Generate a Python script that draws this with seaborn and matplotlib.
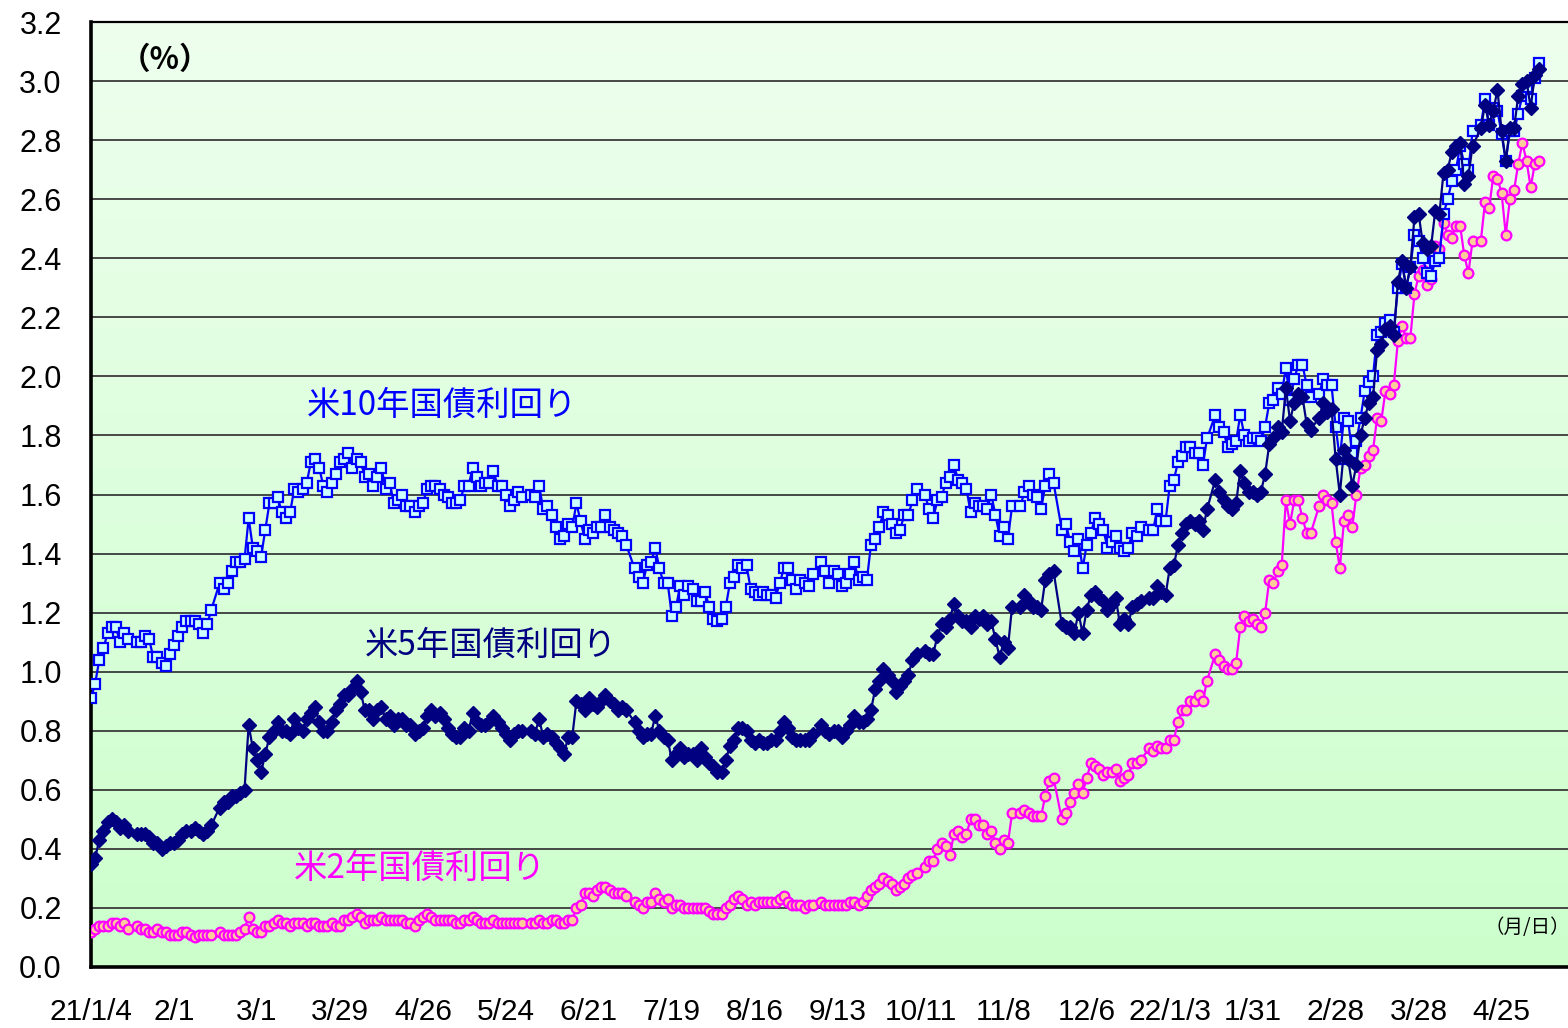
import numpy as np
import pandas as pd
import matplotlib
matplotlib.use("Agg")
import matplotlib.pyplot as plt
import seaborn as sns

nan = np.nan

# weekday dates 2021-01-04 .. 2022-05-06 (one row per week, Mon..Fri; nan = market holiday)
start_date = "2021-01-04"
end_date = "2022-05-06"

tick_labels = ["21/1/4", "2/1", "3/1", "3/29", "4/26", "5/24", "6/21", "7/19", "8/16",
               "9/13", "10/11", "11/8", "12/6", "22/1/3", "1/31", "2/28", "3/28", "4/25"]
y_ticks = [0.0, 0.2, 0.4, 0.6, 0.8, 1.0, 1.2, 1.4, 1.6, 1.8, 2.0, 2.2, 2.4, 2.6, 2.8, 3.0, 3.2]

us10y = [
    0.91, 0.96, 1.04, 1.08, 1.13,  1.15, 1.15, 1.10, 1.13, 1.11,  nan, 1.10, 1.10, 1.12, 1.11,
    1.05, 1.05, 1.03, 1.02, 1.06,  1.09, 1.12, 1.15, 1.17, 1.17,  1.17, 1.16, 1.13, 1.16, 1.21,
    nan, 1.30, 1.28, 1.30, 1.34,  1.37, 1.37, 1.38, 1.52, 1.42,  1.41, 1.39, 1.48, 1.57, 1.57,
    1.59, 1.54, 1.52, 1.54, 1.62,  1.61, 1.62, 1.64, 1.71, 1.72,  1.69, 1.63, 1.61, 1.64, 1.67,
    1.71, 1.72, 1.74, 1.69, 1.72,  1.71, 1.66, 1.67, 1.63, 1.66,  1.69, 1.62, 1.64, 1.57, 1.58,
    1.60, 1.56, 1.56, 1.54, 1.56,  1.57, 1.62, 1.63, 1.63, 1.62,  1.60, 1.59, 1.57, 1.57, 1.58,
    1.63, 1.63, 1.69, 1.66, 1.63,  1.64, 1.64, 1.68, 1.63, 1.63,  1.60, 1.56, 1.58, 1.61, 1.59,
    nan, 1.60, 1.59, 1.63, 1.55,  1.56, 1.53, 1.49, 1.45, 1.46,  1.50, 1.49, 1.57, 1.51, 1.45,
    1.48, 1.47, 1.49, 1.49, 1.53,  1.49, 1.48, 1.47, 1.46, 1.43,  nan, 1.35, 1.32, 1.30, 1.36,
    1.37, 1.42, 1.35, 1.30, 1.30,  1.19, 1.22, 1.29, 1.26, 1.29,  1.28, 1.24, 1.24, 1.27, 1.22,
    1.18, 1.17, 1.18, 1.22, 1.30,  1.32, 1.36, 1.35, 1.36, 1.28,  1.27, 1.26, 1.27, 1.26, 1.26,
    1.25, 1.30, 1.35, 1.35, 1.31,  1.28, 1.31, 1.30, 1.29, 1.33,  nan, 1.37, 1.34, 1.30, 1.34,
    1.33, 1.29, 1.30, 1.33, 1.37,  1.31, 1.32, 1.31, 1.43, 1.45,  1.49, 1.54, 1.53, 1.50, 1.47,
    1.48, 1.53, 1.53, 1.58, 1.62,  nan, 1.60, 1.55, 1.52, 1.58,  1.59, 1.64, 1.66, 1.70, 1.65,
    1.64, 1.62, 1.54, 1.57, 1.56,  1.56, 1.55, 1.60, 1.53, 1.46,  1.49, 1.45, 1.56, nan, 1.56,
    1.61, 1.63, 1.60, 1.59, 1.55,  1.63, 1.67, 1.64, nan, 1.48,  1.50, 1.44, 1.41, 1.45, 1.35,
    1.43, 1.47, 1.52, 1.50, 1.48,  1.42, 1.44, 1.46, 1.42, 1.41,  1.42, 1.47, 1.46, 1.49, nan,
    1.48, 1.48, 1.55, 1.51, 1.51,  1.63, 1.65, 1.71, 1.73, 1.76,  1.76, 1.74, 1.74, 1.70, 1.79,
    nan, 1.87, 1.83, 1.81, 1.76,  1.77, 1.78, 1.87, 1.80, 1.78,  1.79, 1.79, 1.78, 1.83, 1.91,
    1.92, 1.96, 1.94, 2.03, 1.92,  1.99, 2.04, 2.04, 1.97, 1.93,  nan, 1.94, 1.99, 1.97, 1.97,
    1.83, 1.72, 1.86, 1.85, 1.74,  1.78, 1.86, 1.95, 1.98, 2.00,  2.14, 2.15, 2.18, 2.19, 2.15,
    2.30, 2.38, 2.30, 2.37, 2.48,  2.46, 2.40, 2.35, 2.34, 2.39,  2.40, 2.55, 2.60, 2.66, 2.70,
    2.78, 2.72, 2.70, 2.83, nan,  2.85, 2.94, 2.85, 2.91, 2.90,  2.82, 2.73, 2.83, 2.83, 2.89,
    2.95, 2.98, 2.94, 3.01, 3.06,
]

us5y = [
    0.35, 0.37, 0.43, 0.46, 0.49,  0.50, 0.49, 0.47, 0.48, 0.46,  nan, 0.45, 0.45, 0.45, 0.44,
    0.42, 0.42, 0.40, 0.41, 0.42,  0.42, 0.43, 0.45, 0.46, 0.46,  0.47, 0.46, 0.45, 0.46, 0.48,
    nan, 0.54, 0.56, 0.56, 0.58,  0.58, 0.59, 0.60, 0.82, 0.74,  0.70, 0.66, 0.72, 0.78, 0.80,
    0.83, 0.80, 0.80, 0.79, 0.84,  0.81, 0.80, 0.84, 0.86, 0.88,  0.83, 0.80, 0.80, 0.83, 0.87,
    0.89, 0.92, 0.92, 0.94, 0.97,  0.93, 0.87, 0.87, 0.84, 0.87,  0.88, 0.84, 0.85, 0.82, 0.84,
    0.84, 0.82, 0.82, 0.79, 0.80,  0.81, 0.85, 0.87, 0.85, 0.86,  0.84, 0.81, 0.79, 0.78, 0.78,
    0.81, 0.80, 0.86, 0.83, 0.82,  0.82, 0.83, 0.85, 0.83, 0.81,  0.79, 0.77, 0.79, 0.80, 0.80,
    nan, 0.80, 0.79, 0.84, 0.78,  0.79, 0.78, 0.76, 0.74, 0.72,  0.78, 0.78, 0.90, 0.89, 0.87,
    0.91, 0.89, 0.88, 0.90, 0.92,  0.90, 0.89, 0.87, 0.88, 0.87,  nan, 0.83, 0.80, 0.78, 0.79,
    0.79, 0.85, 0.80, 0.78, 0.77,  0.70, 0.72, 0.74, 0.71, 0.72,  0.72, 0.70, 0.74, 0.71, 0.69,
    0.68, 0.66, 0.66, 0.70, 0.75,  0.77, 0.81, 0.81, 0.80, 0.77,  0.76, 0.77, 0.76, 0.76, 0.77,
    0.77, 0.80, 0.83, 0.81, 0.78,  0.77, 0.77, 0.77, 0.77, 0.79,  nan, 0.82, 0.80, 0.79, 0.80,
    0.80, 0.78, 0.80, 0.82, 0.85,  0.83, 0.83, 0.84, 0.87, 0.94,  0.97, 1.01, 0.99, 0.97, 0.93,
    0.95, 0.97, 0.99, 1.04, 1.06,  nan, 1.07, 1.06, 1.06, 1.12,  1.16, 1.15, 1.18, 1.23, 1.19,
    1.17, 1.17, 1.15, 1.19, 1.18,  1.19, 1.16, 1.17, 1.11, 1.05,  1.10, 1.08, 1.22, nan, 1.22,
    1.26, 1.24, 1.22, 1.22, 1.21,  1.31, 1.33, 1.34, nan, 1.16,  1.15, 1.15, 1.13, 1.20, 1.13,
    1.21, 1.26, 1.27, 1.25, 1.24,  1.21, 1.23, 1.25, 1.16, 1.18,  1.16, 1.22, 1.23, 1.24, nan,
    1.25, 1.25, 1.29, 1.27, 1.26,  1.35, 1.36, 1.43, 1.47, 1.50,  1.51, 1.50, 1.51, 1.48, 1.55,
    nan, 1.65, 1.61, 1.58, 1.56,  1.55, 1.57, 1.68, 1.64, 1.61,  1.61, 1.60, 1.61, 1.67, 1.77,
    1.79, 1.83, 1.81, 1.96, 1.85,  1.91, 1.94, 1.93, 1.84, 1.82,  nan, 1.86, 1.91, 1.88, 1.89,
    1.72, 1.60, 1.75, 1.72, 1.63,  1.70, 1.80, 1.86, 1.91, 1.93,  2.09, 2.11, 2.16, 2.17, 2.14,
    2.32, 2.39, 2.30, 2.37, 2.54,  2.55, 2.45, 2.43, 2.44, 2.56,  2.55, 2.69, 2.70, 2.76, 2.78,
    2.79, 2.65, 2.68, 2.78, nan,  2.84, 2.92, 2.85, 2.90, 2.97,  2.83, 2.73, 2.84, 2.84, 2.95,
    2.99, 3.00, 2.91, 3.02, 3.04,
]

us2y = [
    0.12, 0.13, 0.14, 0.14, 0.14,  0.15, 0.15, 0.14, 0.15, 0.13,  nan, 0.14, 0.13, 0.13, 0.12,
    0.12, 0.13, 0.12, 0.12, 0.11,  0.11, 0.11, 0.12, 0.12, 0.11,  0.10, 0.11, 0.11, 0.11, 0.11,
    nan, 0.12, 0.11, 0.11, 0.11,  0.11, 0.12, 0.13, 0.17, 0.13,  0.12, 0.12, 0.14, 0.14, 0.15,
    0.16, 0.15, 0.15, 0.14, 0.15,  0.15, 0.15, 0.14, 0.15, 0.15,  0.14, 0.14, 0.14, 0.15, 0.14,
    0.14, 0.16, 0.16, 0.17, 0.18,  0.17, 0.15, 0.16, 0.16, 0.16,  0.17, 0.16, 0.16, 0.16, 0.16,
    0.16, 0.15, 0.15, 0.14, 0.16,  0.17, 0.18, 0.17, 0.16, 0.16,  0.16, 0.16, 0.16, 0.15, 0.15,
    0.16, 0.16, 0.17, 0.16, 0.15,  0.15, 0.15, 0.16, 0.15, 0.15,  0.15, 0.15, 0.15, 0.15, 0.15,
    nan, 0.15, 0.15, 0.16, 0.15,  0.15, 0.16, 0.16, 0.15, 0.15,  0.16, 0.16, 0.20, 0.21, 0.25,
    0.25, 0.24, 0.26, 0.27, 0.27,  0.26, 0.25, 0.25, 0.25, 0.24,  nan, 0.22, 0.21, 0.20, 0.22,
    0.22, 0.25, 0.23, 0.22, 0.23,  0.20, 0.21, 0.21, 0.20, 0.20,  0.20, 0.20, 0.20, 0.20, 0.19,
    0.18, 0.18, 0.18, 0.20, 0.21,  0.23, 0.24, 0.23, 0.21, 0.22,  0.21, 0.22, 0.22, 0.22, 0.22,
    0.22, 0.23, 0.24, 0.22, 0.21,  0.21, 0.21, 0.20, 0.21, 0.21,  nan, 0.22, 0.21, 0.21, 0.21,
    0.21, 0.21, 0.21, 0.22, 0.22,  0.21, 0.22, 0.24, 0.26, 0.27,  0.28, 0.30, 0.29, 0.28, 0.26,
    0.27, 0.28, 0.30, 0.31, 0.32,  nan, 0.34, 0.36, 0.36, 0.40,  0.42, 0.41, 0.38, 0.45, 0.46,
    0.44, 0.45, 0.50, 0.50, 0.48,  0.48, 0.45, 0.46, 0.42, 0.40,  0.43, 0.42, 0.52, nan, 0.52,
    0.53, 0.52, 0.51, 0.51, 0.51,  0.58, 0.63, 0.64, nan, 0.50,  0.52, 0.56, 0.59, 0.62, 0.59,
    0.64, 0.69, 0.68, 0.67, 0.65,  0.66, 0.66, 0.67, 0.63, 0.64,  0.65, 0.69, 0.69, 0.70, nan,
    0.74, 0.73, 0.75, 0.74, 0.74,  0.77, 0.77, 0.83, 0.87, 0.87,  0.90, 0.90, 0.92, 0.90, 0.97,
    nan, 1.06, 1.04, 1.02, 1.01,  1.01, 1.03, 1.15, 1.19, 1.17,  1.18, 1.16, 1.15, 1.20, 1.31,
    1.30, 1.34, 1.36, 1.58, 1.50,  1.58, 1.58, 1.52, 1.47, 1.47,  nan, 1.56, 1.60, 1.58, 1.57,
    1.44, 1.35, 1.51, 1.53, 1.49,  1.60, 1.69, 1.70, 1.73, 1.75,  1.86, 1.85, 1.95, 1.94, 1.97,
    2.12, 2.17, 2.13, 2.13, 2.28,  2.34, 2.36, 2.31, 2.33, 2.44,  2.43, 2.52, 2.48, 2.47, 2.51,
    2.51, 2.41, 2.35, 2.46, nan,  2.46, 2.59, 2.57, 2.68, 2.67,  2.62, 2.48, 2.60, 2.63, 2.72,
    2.79, 2.73, 2.64, 2.72, 2.73,
]

dates = pd.bdate_range(start_date, end_date)
df = pd.DataFrame({"date": dates, "idx": np.arange(len(dates)),
                   "us10y": us10y, "us5y": us5y, "us2y": us2y})

sns.set_style("white")
plt.rcParams["font.family"] = ["Liberation Sans", "Noto Sans CJK JP", "DejaVu Sans"]

W, H = 1568, 1028
fig = plt.figure(figsize=(W / 100, H / 100), dpi=100)
ax = fig.add_axes([91 / W, 1 - 967 / H, (W - 91) / W, (967 - 22) / H])

# background gradient
top_c = np.array([238, 254, 238]) / 255
bot_c = np.array([204, 255, 204]) / 255
t = np.linspace(0, 1, 256)[:, None]
grad = (top_c[None, :] * (1 - t) + bot_c[None, :] * t)[:, None, :]
ax.imshow(grad, extent=[0, 1, 0, 1], transform=ax.transAxes, aspect="auto", zorder=0)

ax.set_xlim(0, 356)
ax.set_ylim(0, 3.2)
ax.set_yticks(y_ticks)
ax.yaxis.grid(True, color="#3a3a3a", linewidth=1.3, zorder=1)
ax.set_axisbelow(True)

d2 = df[["idx", "us2y"]].dropna()
d10 = df[["idx", "us10y"]].dropna()
d5 = df[["idx", "us5y"]].dropna()

sns.lineplot(data=d2, x="idx", y="us2y", ax=ax, color="#FF00FF", linewidth=1.6,
             marker="o", markersize=7, markerfacecolor="#FFCC99",
             markeredgecolor="#FF00FF", markeredgewidth=1.6, zorder=3)
sns.lineplot(data=d10, x="idx", y="us10y", ax=ax, color="#0000FF", linewidth=1.6,
             marker="s", markersize=7.5, markerfacecolor="#CCFFFF",
             markeredgecolor="#0000FF", markeredgewidth=1.6, zorder=4)
sns.lineplot(data=d5, x="idx", y="us5y", ax=ax, color="#000080", linewidth=1.6,
             marker="D", markersize=7.5, markerfacecolor="#000080",
             markeredgecolor="#000080", markeredgewidth=1.0, zorder=5)

ax.set_xlabel("")
ax.set_ylabel("")
ax.set_xticks(np.arange(0, 20 * len(tick_labels), 20))
ax.set_xticklabels(tick_labels)
ax.set_yticklabels([f"{v:.1f}" for v in y_ticks])
ax.tick_params(axis="x", direction="in", length=8, width=1.2, color="black",
               labelsize=21.5, pad=22, labelcolor="black")
ax.tick_params(axis="y", length=0, labelsize=22, pad=21, labelcolor="black")
for lab in ax.get_yticklabels():
    lab.set_horizontalalignment("right")

for s in ["left", "bottom"]:
    ax.spines[s].set_color("black")
    ax.spines[s].set_linewidth(2.6)
ax.spines["top"].set_color("black")
ax.spines["top"].set_linewidth(1.6)
ax.spines["right"].set_visible(False)

jp = ["Noto Sans CJK JP", "DejaVu Sans"]
fig.text(442 / W, 1 - 405 / H, "米10年国債利回り", color="#0000FF", fontsize=24,
         family=jp, ha="center", va="center")
fig.text(491 / W, 1 - 645 / H, "米5年国債利回り", color="#000080", fontsize=24,
         family=jp, ha="center", va="center")
fig.text(420 / W, 1 - 868 / H, "米2年国債利回り", color="#FF00FF", fontsize=24,
         family=jp, ha="center", va="center")
fig.text(165 / W, 1 - 60 / H, "（%）", color="black", fontsize=22, fontweight="semibold",
         family=jp, ha="center", va="center")
fig.text(1527 / W, 1 - 928 / H, "（月/日）", color="black", fontsize=14,
         family=jp, ha="center", va="center")

fig.savefig("out.png", dpi=100)
